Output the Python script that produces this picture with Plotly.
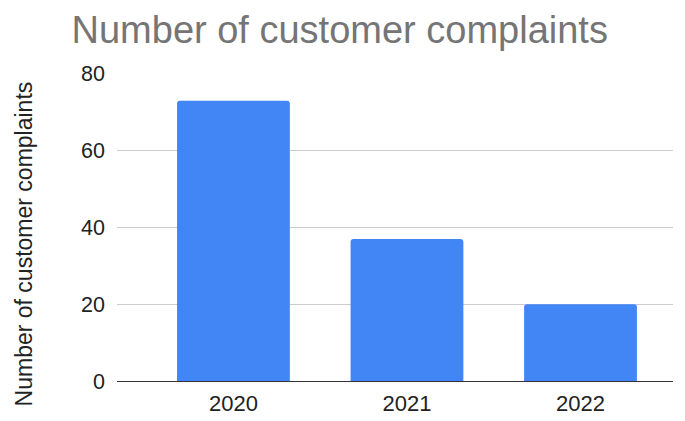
import plotly.graph_objects as go

years = ["2020", "2021", "2022"]
complaints = [73, 37, 20]
y_ticks = [0, 20, 40, 60, 80]

FONT = "Liberation Sans, Arial, Helvetica, sans-serif"

fig = go.Figure(go.Bar(
    x=years, y=complaints,
    marker=dict(color="#4285F4", cornerradius=3, line=dict(width=0)),
))

fig.update_layout(
    width=677, height=413,
    margin=dict(l=109, r=12, t=65, b=40),
    paper_bgcolor="white", plot_bgcolor="white",
    font=dict(family=FONT, color="#222222"),
    title=dict(text="Number of customer complaints", x=0.49, xanchor="center",
               y=0.948, yanchor="middle",
               font=dict(size=38, color="#757575", family=FONT)),
    bargap=0.35,
    showlegend=False,
    annotations=[dict(text="Number of customer complaints", textangle=-90,
                      xref="paper", yref="paper", x=-0.167, y=0.444,
                      xanchor="center", yanchor="middle", showarrow=False,
                      font=dict(size=23, color="#222222", family=FONT))],
)
fig.update_yaxes(range=[0, 80.2], tickvals=y_ticks, showgrid=True, gridcolor="#cccccc",
                 gridwidth=1, zeroline=False, tickfont=dict(size=21.5, color="#222222"),
                 ticks="", ticklabelstandoff=11, automargin=False)
fig.update_xaxes(range=[-0.671, 2.533], showline=True, linecolor="#333333", linewidth=1,
                 tickfont=dict(size=22, color="#222222"), ticks="", ticklabelstandoff=3,
                 automargin=False)

fig.write_html("out.html")
